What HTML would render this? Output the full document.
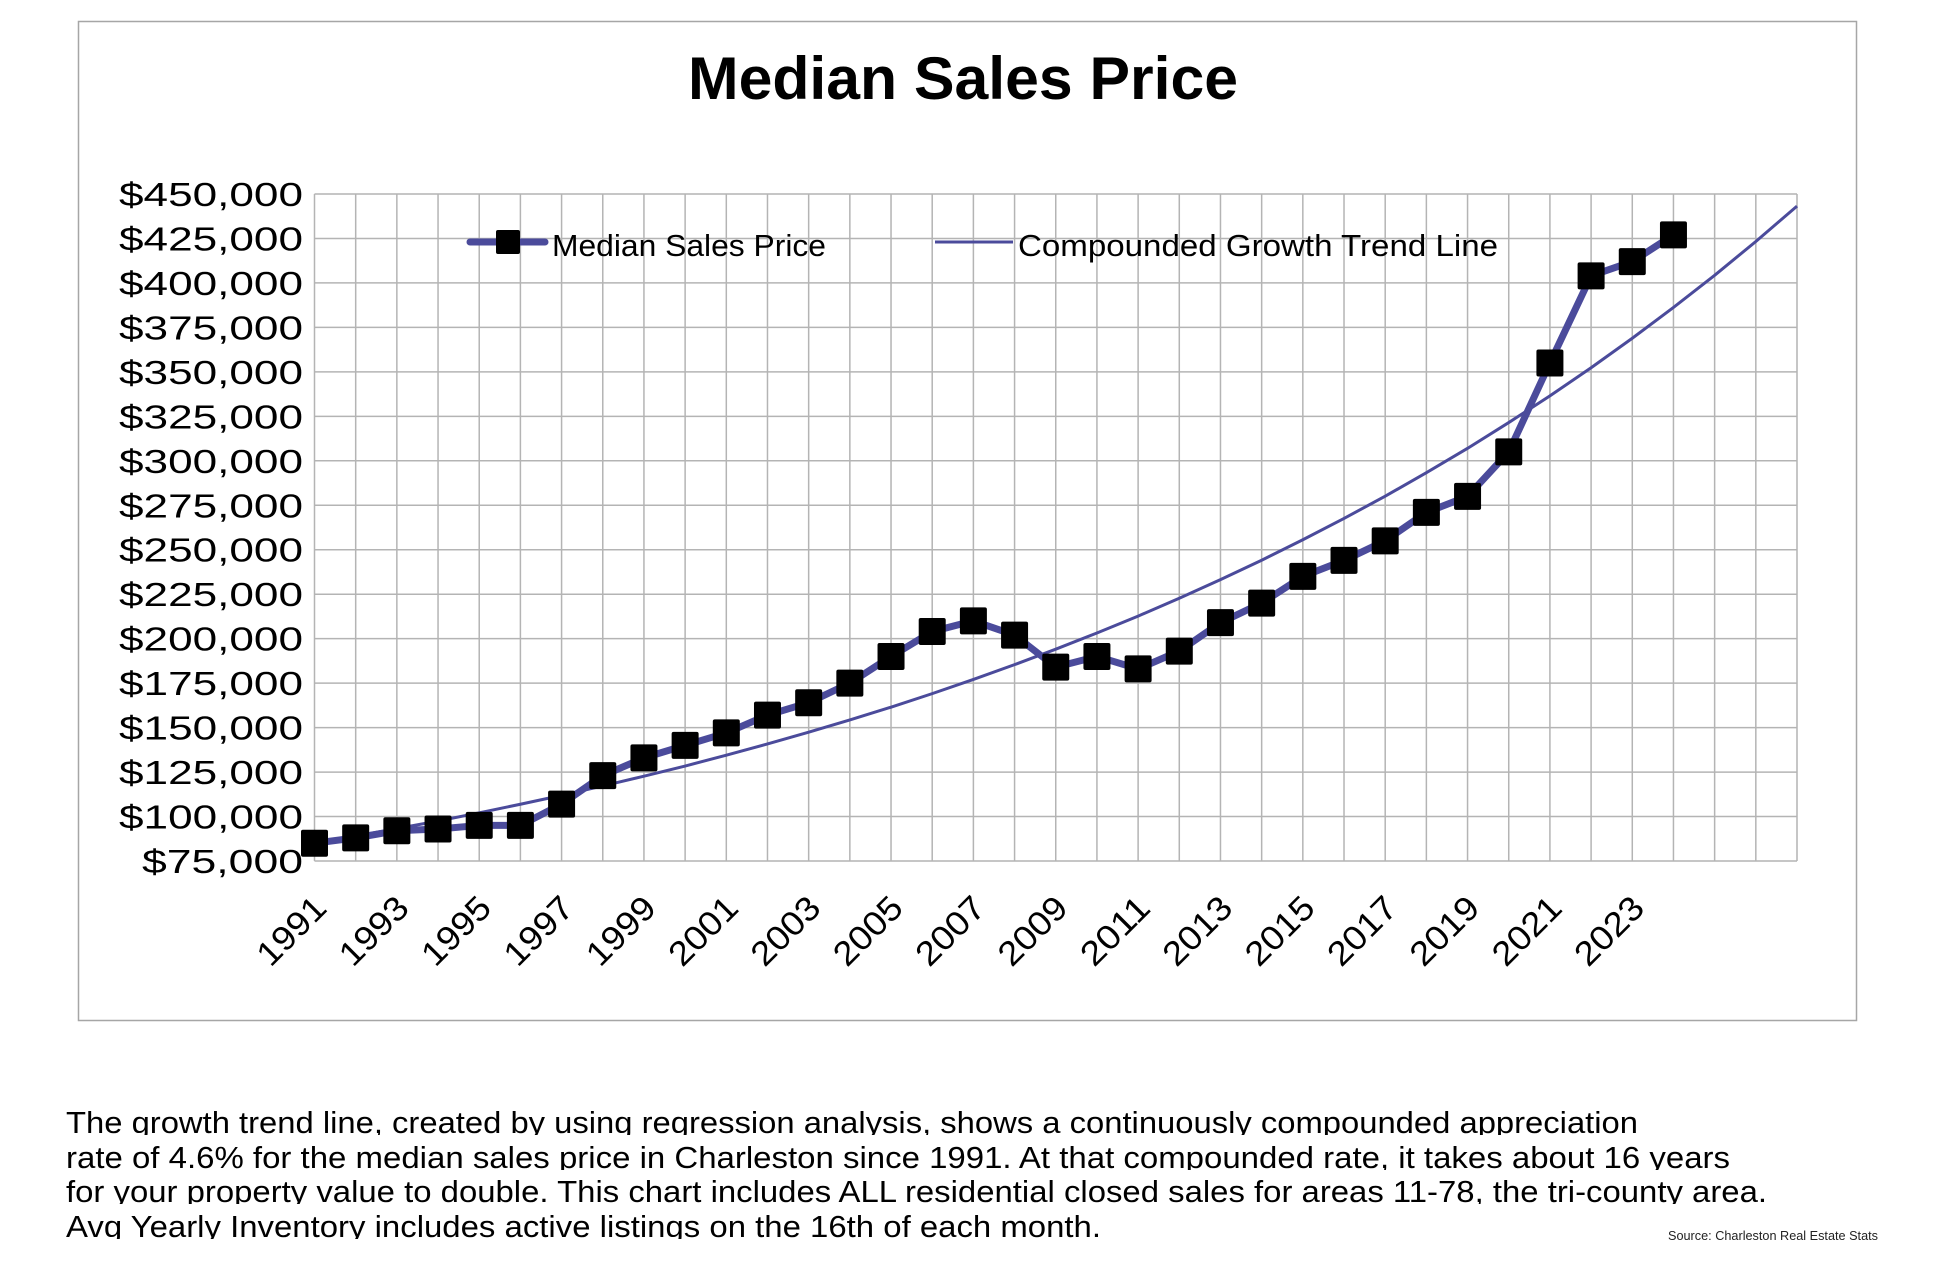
<!DOCTYPE html>
<html><head><meta charset="utf-8"><style>
html,body{margin:0;padding:0;background:#fff;}
svg{display:block;font-family:"Liberation Sans",sans-serif;}
</style></head><body>
<svg id="chart" width="1940" height="1270" viewBox="0 0 1940 1270" xmlns="http://www.w3.org/2000/svg">
<defs>
<clipPath id="c1"><rect x="0" y="1090" width="1940" height="45"/></clipPath>
<clipPath id="c2"><rect x="0" y="1135" width="1940" height="35"/></clipPath>
<clipPath id="c3"><rect x="0" y="1170" width="1940" height="34"/></clipPath>
<clipPath id="c4"><rect x="0" y="1204" width="1940" height="35"/></clipPath>
</defs>
<rect x="78.5" y="21.5" width="1778" height="999" fill="#fff" stroke="#a6a6a6" stroke-width="1.5"/>
<text x="963" y="99" text-anchor="middle" font-size="60" font-weight="bold" textLength="550" lengthAdjust="spacingAndGlyphs">Median Sales Price</text>
<g id="grid"></g>
<g id="yticks"></g>
<g id="xticks"></g>
<g id="series"></g>
<g>
<line x1="470" y1="242" x2="545" y2="242" stroke="#4b4b9b" stroke-width="7" stroke-linecap="round"/>
<rect x="496" y="230" width="24" height="24" rx="2" fill="#000"/>
<text x="552" y="256" font-size="31" textLength="274" lengthAdjust="spacingAndGlyphs">Median Sales Price</text>
<line x1="935" y1="242" x2="1013" y2="242" stroke="#4b4b9b" stroke-width="3"/>
<text x="1018" y="256" font-size="31" textLength="480" lengthAdjust="spacingAndGlyphs">Compounded Growth Trend Line</text>
</g>
<g font-size="31">
<text clip-path="url(#c1)" x="66" y="1133" textLength="1572" lengthAdjust="spacingAndGlyphs">The growth trend line, created by using regression analysis, shows a continuously compounded appreciation</text>
<text clip-path="url(#c2)" x="66" y="1168" textLength="1664" lengthAdjust="spacingAndGlyphs">rate of 4.6% for the median sales price in Charleston since 1991.  At that compounded rate, it takes about 16 years</text>
<text clip-path="url(#c3)" x="66" y="1202" textLength="1701" lengthAdjust="spacingAndGlyphs">for your property value to double. This chart includes ALL residential closed sales for areas 11-78, the tri-county area.</text>
<text clip-path="url(#c4)" x="66" y="1237" textLength="1035" lengthAdjust="spacingAndGlyphs">Avg Yearly Inventory includes active listings on the 16th of each month.</text>
</g>
<text x="1668" y="1240" font-size="13" textLength="210" lengthAdjust="spacingAndGlyphs" fill="#222">Source: Charleston Real Estate Stats</text>
</svg>
<script>
const years = [1991,1992,1993,1994,1995,1996,1997,1998,1999,2000,2001,2002,2003,2004,2005,2006,2007,2008,2009,2010,2011,2012,2013,2014,2015,2016,2017,2018,2019,2020,2021,2022,2023,2024];
const medianPrice = [85000,88000,92000,93000,95000,95000,107000,123000,133000,140000,147000,157000,164000,175000,190000,204000,210000,202000,184000,190000,183000,193000,209000,220000,235000,244000,255000,271000,280000,305000,355000,404000,412000,427000];
const trendYears = [1991,1992,1993,1994,1995,1996,1997,1998,1999,2000,2001,2002,2003,2004,2005,2006,2007,2008,2009,2010,2011,2012,2013,2014,2015,2016,2017,2018,2019,2020,2021,2022,2023,2024,2025,2026,2027];
const trendValues = [85000,89000,93200,97500,102100,106900,111900,117200,122700,128400,134500,140800,147400,154300,161500,169100,177100,185400,194100,203200,212700,222700,233200,244100,255600,267600,280100,293300,307000,321500,336500,352300,368900,386200,404300,423300,443200];
const yTickValues = [75000,100000,125000,150000,175000,200000,225000,250000,275000,300000,325000,350000,375000,400000,425000,450000];
const yTickLabels = ["$75,000","$100,000","$125,000","$150,000","$175,000","$200,000","$225,000","$250,000","$275,000","$300,000","$325,000","$350,000","$375,000","$400,000","$425,000","$450,000"];
const xTickLabels = ["1991","1993","1995","1997","1999","2001","2003","2005","2007","2009","2011","2013","2015","2017","2019","2021","2023"];

const NS="http://www.w3.org/2000/svg";
const L=314.5,R=1797,T=194,B=861,X0=1991,X1=2027,Y0=75000,Y1=450000;
function xs(v){return L+(v-X0)/(X1-X0)*(R-L);}
function ys(v){return B-(v-Y0)/(Y1-Y0)*(B-T);}
function mk(tag,attrs,parent){const e=document.createElementNS(NS,tag);for(const k in attrs)e.setAttribute(k,attrs[k]);parent.appendChild(e);return e;}
const grid=document.getElementById('grid'),yt=document.getElementById('yticks'),xt=document.getElementById('xticks'),se=document.getElementById('series');

for(let y=X0;y<=X1;y++){const e=mk('line',{x1:xs(y),x2:xs(y),y1:T,y2:B,stroke:'#b4b4b4','stroke-width':1.5},grid);

}
yTickValues.forEach((v,i)=>{const e=mk('line',{x1:L,x2:R,y1:ys(v),y2:ys(v),stroke:'#b4b4b4','stroke-width':1.5},grid);


const t=mk('text',{x:303,y:ys(v)+12,'text-anchor':'end','font-size':33,textLength:yTickLabels[i].length*23,lengthAdjust:'spacingAndGlyphs'},yt);t.textContent=yTickLabels[i];

});
xTickLabels.forEach(s=>{const x=xs(+s)+14,y=910;const t=mk('text',{x:x,y:y,'text-anchor':'end','font-size':34,textLength:82,lengthAdjust:'spacingAndGlyphs',transform:`rotate(-45 ${x} ${y})`},xt);t.textContent=s;

});
const tp=mk('polyline',{points:trendYears.map((y,i)=>xs(y)+','+ys(trendValues[i])).join(' '),fill:'none',stroke:'#4b4b9b','stroke-width':3},se);


const mp=mk('polyline',{points:years.map((y,i)=>xs(y)+','+ys(medianPrice[i])).join(' '),fill:'none',stroke:'#4b4b9b','stroke-width':7,'stroke-linejoin':'round'},se);


years.forEach((y,i)=>{const r=mk('rect',{x:xs(y)-13.5,y:ys(medianPrice[i])-13.5,width:27,height:27,rx:2,fill:'#000'},se);

});
</script>
</body></html>
